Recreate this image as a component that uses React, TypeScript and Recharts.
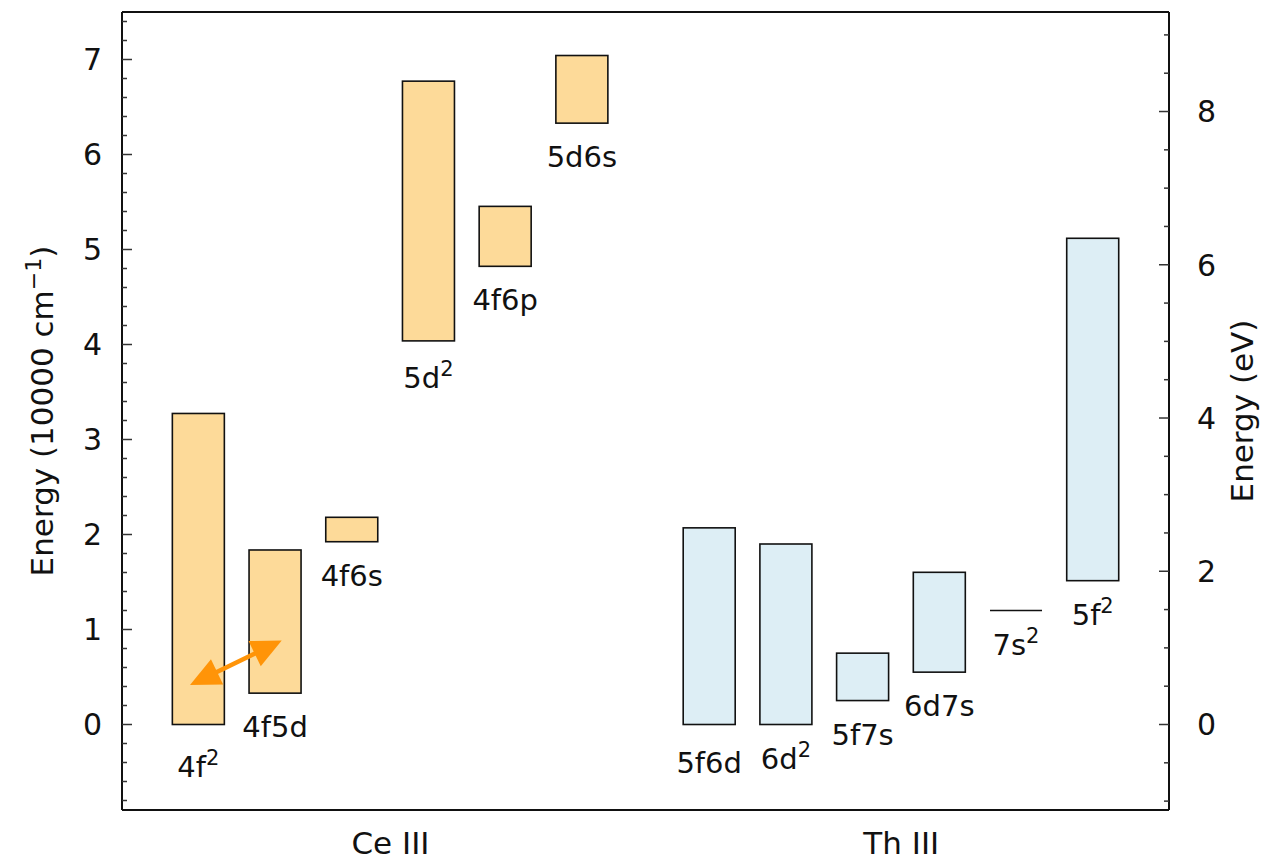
import { Bar, ComposedChart, LabelList, ReferenceLine, XAxis, YAxis } from "recharts";

const FONT = "'DejaVu Sans', sans-serif";
// 1 eV expressed in units of 10^4 cm^-1
const EV_IN_CM = 0.806554;

// Ce III configuration ranges, 10^4 cm^-1 ("^" marks a superscript)
const ceConfigs = ["4f^2", "4f5d", "4f6s", "5d^2", "4f6p", "5d6s"];
const ceLow = [0, 0.33, 1.924, 4.038, 4.823, 6.33];
const ceHigh = [3.274, 1.837, 2.181, 6.772, 5.454, 7.042];

// Th III configuration ranges, 10^4 cm^-1
const thConfigs = ["5f6d", "6d^2", "5f7s", "6d7s", "7s^2", "5f^2"];
const thLow = [0, 0, 0.252, 0.551, 1.199, 1.514];
const thHigh = [2.07, 1.9, 0.751, 1.602, 1.199, 5.118];

const ions = ["Ce III", "Th III"];
const cmTicks = [0, 1, 2, 3, 4, 5, 6, 7];
const evTicks = [0, 2, 4, 6, 8];

// 4f^2 <-> 4f5d transition arrow (x in slot units, y in 10^4 cm^-1)
const arrowFrom = { x: 0.887, y: 0.417 };
const arrowTo = { x: 2.082, y: 0.883 };

const FILLS = ["#FDDA99", "#DDEEF5"];
const ARROW = "#FF9408";
const INK = "#111";

// slot where each ion's first bar sits on the numeric x axis
const GROUP_START = [1, 7.66];
const X_DOMAIN: [number, number] = [0, 13.65];
const CM_DOMAIN: [number, number] = [-0.9, 7.5];
const EV_DOMAIN: [number, number] = [CM_DOMAIN[0] / EV_IN_CM, CM_DOMAIN[1] / EV_IN_CM];

const rows = [
  ...ceConfigs.map((name, i) => ({ name, ion: 0, x: GROUP_START[0] + i, range: [ceLow[i], ceHigh[i]] })),
  ...thConfigs.map((name, i) => ({ name, ion: 1, x: GROUP_START[1] + i, range: [thLow[i], thHigh[i]] })),
];

const ionTicks = ions.map((_, g) => GROUP_START[g] + 2.5);

function steps(from: number, to: number, step: number) {
  const out: number[] = [];
  for (let v = from; v <= to + 1e-9; v += step) out.push(Math.round(v * 100) / 100);
  return out;
}
const cmAxisTicks = steps(-0.8, 7.4, 0.2);
const evAxisTicks = steps(-1, 9, 0.5);

const isMajor = (v: number, majors: number[]) => majors.some((m) => Math.abs(m - v) < 1e-6);

function CmTick({ x, y, payload }: any) {
  const major = isMajor(payload.value, cmTicks);
  return (
    <g>
      <line x1={x} y1={y} x2={x + (major ? 10 : 5)} y2={y} stroke="#333" strokeWidth={1.5} />
      {major && (
        <text x={x - 20} y={y} dy="0.36em" textAnchor="end" fontSize={30} fontFamily={FONT} fill={INK}>
          {payload.value}
        </text>
      )}
    </g>
  );
}

function EvTick({ x, y, payload }: any) {
  const major = isMajor(payload.value, evTicks);
  return (
    <g>
      <line x1={x} y1={y} x2={x - (major ? 10 : 5)} y2={y} stroke="#333" strokeWidth={1.5} />
      {major && (
        <text x={x + 28} y={y} dy="0.36em" textAnchor="start" fontSize={30} fontFamily={FONT} fill={INK}>
          {payload.value}
        </text>
      )}
    </g>
  );
}

function IonTick({ x, y, index }: any) {
  return (
    <text x={x} y={y + 44} textAnchor="middle" fontSize={31} fontFamily={FONT} fill={INK}>
      {ions[index]}
    </text>
  );
}

function AxisTitle({ viewBox, side }: any) {
  const cy = viewBox.y + viewBox.height / 2;
  const bx = side === "left" ? 53 : 1253;
  return (
    <text
      x={bx}
      y={cy}
      transform={`rotate(-90, ${bx}, ${cy})`}
      textAnchor="middle"
      fontSize={31}
      fontFamily={FONT}
      fill={INK}
    >
      {side === "left" ? (
        <>
          Energy (10000 cm
          <tspan dy={-12} fontSize={22}>
            −1
          </tspan>
          <tspan dy={12}>)</tspan>
        </>
      ) : (
        "Energy (eV)"
      )}
    </text>
  );
}

function LevelBox({ x, y, width, height, payload }: any) {
  const top = Math.min(y, y + height);
  const h = Math.abs(height);
  if (h < 1) {
    return <line x1={x} y1={top} x2={x + width} y2={top} stroke={INK} strokeWidth={1.5} />;
  }
  return (
    <rect x={x} y={top} width={width} height={h} fill={FILLS[payload.ion]} stroke={INK} strokeWidth={1.6} />
  );
}

// a few labels sit a little lower than the rest
const labelNudge: Record<string, number> = { "4f^2": 8, "5f6d": 4, "5d^2": 3 };

function LevelLabel(props: any) {
  const vb = props.viewBox ?? props;
  const bottom = Math.max(vb.y, vb.y + vb.height);
  const cx = vb.x + vb.width / 2;
  const name = String(props.value);
  const [base, sup] = name.split("^");
  return (
    <text
      x={cx}
      y={bottom + 44 + (labelNudge[name] ?? 0)}
      textAnchor="middle"
      fontSize={29}
      fontFamily={FONT}
      fill={INK}
    >
      {base}
      {sup && (
        <tspan dy={-12} fontSize={21}>
          {sup}
        </tspan>
      )}
    </text>
  );
}

function DoubleArrow({ x1, y1, x2, y2 }: any) {
  const len = Math.hypot(x2 - x1, y2 - y1);
  const ux = (x2 - x1) / len;
  const uy = (y2 - y1) / len;
  const nx = -uy;
  const ny = ux;
  const L = 30;
  const W = 14;
  const head = (tx: number, ty: number, d: number) => {
    const bx = tx - d * ux * L;
    const by = ty - d * uy * L;
    return `${tx},${ty} ${bx + nx * W},${by + ny * W} ${bx - nx * W},${by - ny * W}`;
  };
  return (
    <g>
      <line
        x1={x1 + ux * L * 0.8}
        y1={y1 + uy * L * 0.8}
        x2={x2 - ux * L * 0.8}
        y2={y2 - uy * L * 0.8}
        stroke={ARROW}
        strokeWidth={4.5}
      />
      <polygon points={head(x2, y2, 1)} fill={ARROW} />
      <polygon points={head(x1, y1, -1)} fill={ARROW} />
    </g>
  );
}

export default function App() {
  return (
    <div style={{ position: "absolute", left: 0, top: 0, width: 1283, height: 860, background: "#fff" }}>
      <ComposedChart width={1283} height={860} data={rows} margin={{ top: 12, right: 0, bottom: 0, left: 0 }}>
        <XAxis
          xAxisId="x"
          type="number"
          dataKey="x"
          domain={X_DOMAIN}
          allowDataOverflow
          ticks={ionTicks}
          interval={0}
          height={50}
          tickSize={0}
          tickMargin={0}
          tickLine={false}
          tick={<IonTick />}
          axisLine={{ stroke: INK, strokeWidth: 2 }}
        />
        <YAxis
          yAxisId="cm"
          type="number"
          domain={CM_DOMAIN}
          allowDataOverflow
          width={122}
          ticks={cmAxisTicks}
          interval={0}
          tickSize={0}
          tickMargin={0}
          tickLine={false}
          tick={<CmTick />}
          axisLine={{ stroke: INK, strokeWidth: 2 }}
          label={<AxisTitle side="left" />}
        />
        <YAxis
          yAxisId="ev"
          orientation="right"
          type="number"
          domain={EV_DOMAIN}
          allowDataOverflow
          width={114}
          ticks={evAxisTicks}
          interval={0}
          tickSize={0}
          tickMargin={0}
          tickLine={false}
          tick={<EvTick />}
          axisLine={{ stroke: INK, strokeWidth: 2 }}
          label={<AxisTitle side="right" />}
        />
        <Bar
          xAxisId="x"
          yAxisId="cm"
          dataKey="range"
          barSize={52}
          shape={<LevelBox />}
          isAnimationActive={false}
        >
          <LabelList dataKey="name" content={<LevelLabel />} />
        </Bar>
        {/* top edge of the frame */}
        <ReferenceLine xAxisId="x" yAxisId="cm" y={CM_DOMAIN[1]} stroke={INK} strokeWidth={2} />
        <ReferenceLine
          xAxisId="x"
          yAxisId="cm"
          segment={[arrowFrom, arrowTo]}
          shape={<DoubleArrow />}
        />
      </ComposedChart>
    </div>
  );
}
